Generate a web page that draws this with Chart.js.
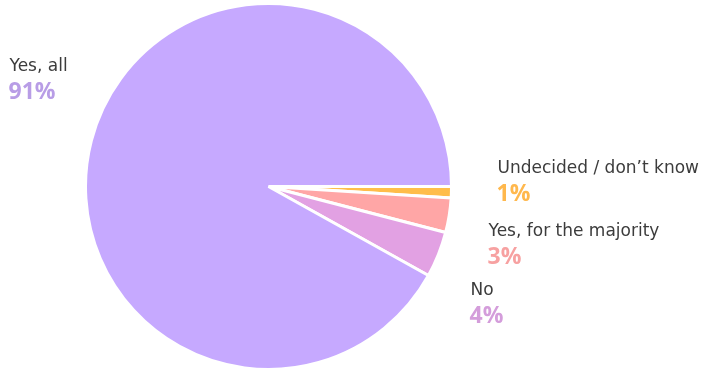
<!DOCTYPE html>
<html>
<head>
<meta charset="utf-8">
<script src="https://cdn.jsdelivr.net/npm/chart.js@4"></script>
<style>
  html, body { margin: 0; padding: 0; background: #fff; }
  #wrap { width: 712px; height: 371px; }
</style>
</head>
<body>
<div id="wrap"><canvas id="myChart"></canvas></div>
<script>
const categories = ['Undecided / don\u2019t know', 'Yes, for the majority', 'No', 'Yes, all'];
const shares = [1, 3, 4, 91];
const sliceColors = ['#ffbd4a', '#ffa6a6', '#e2a1e3', '#c6a9ff'];
const labelColors = ['#ffb84d', '#f7a1a1', '#d49ddb', '#b89de6'];

// baseline of the name line for each block, relative to the pie centre
const labelSpots = [
  {dx: 229, dy: -14},
  {dx: 220, dy: 49},
  {dx: 202, dy: 108},
  {dx: -259, dy: -116}
];

const ctx = document.getElementById('myChart');

const pieLabels = {
  id: 'pieLabels',
  afterDraw(chart) {
    const c = chart.ctx;
    const arcs = chart.getDatasetMeta(0).data;
    c.save();
    c.textAlign = 'left';
    c.textBaseline = 'alphabetic';
    arcs.forEach((arc, i) => {
      const x = arc.x + labelSpots[i].dx;
      const y = arc.y + labelSpots[i].dy;
      c.font = '17px "DejaVu Sans"';
      c.fillStyle = '#3c3c3c';
      c.fillText(categories[i], x, y);
      c.font = 'bold 23px "Open Sans"';
      c.fillStyle = labelColors[i];
      c.fillText(shares[i] + '%', x - 1, y + 28);
    });
    c.restore();
  }
};

new Chart(ctx, {
  type: 'pie',
  data: {
    labels: categories,
    datasets: [{
      data: shares,
      backgroundColor: sliceColors,
      borderColor: '#fff',
      borderWidth: 3
    }]
  },
  options: {
    responsive: true,
    maintainAspectRatio: false,
    animation: false,
    rotation: 90,
    layout: { padding: { top: 2, bottom: -2, left: 83, right: 258 } },
    plugins: {
      legend: { display: false },
      tooltip: { enabled: false }
    }
  },
  plugins: [pieLabels]
});
</script>
</body>
</html>
